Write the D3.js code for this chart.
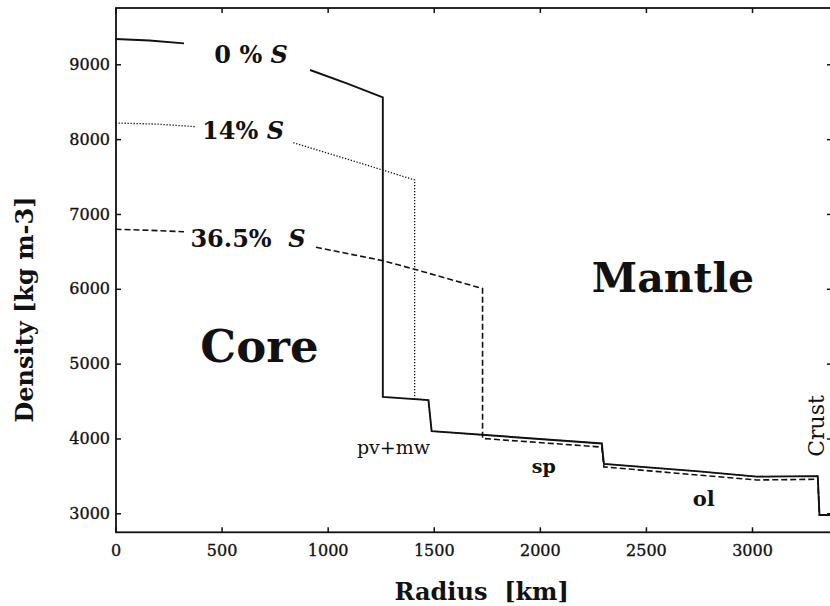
<!DOCTYPE html>
<html>
<head>
<meta charset="utf-8">
<script src="https://cdn.jsdelivr.net/npm/d3@7"></script>
<style>
  html, body { margin: 0; padding: 0; background: #fff; }
  svg { display: block; }
  text { font-family: "DejaVu Serif", serif; fill: #111; }
</style>
</head>
<body>
<svg id="chart" width="830" height="606"></svg>
<script>
// ---------------- data ----------------
const radiusTicks  = [0, 500, 1000, 1500, 2000, 2500, 3000];
const densityTicks = [3000, 4000, 5000, 6000, 7000, 8000, 9000];

// [radius km, density kg m-3]; null = break in the line (gap for the label)
const core0  = [[0, 9338], [160, 9318], [323, 9280], null, [917, 8924], [1090, 8745], [1260, 8559], [1260, 4556]];
const core14 = [[0, 8216], [200, 8200], [381, 8166], null, [838, 7952], [1126, 7704], [1410, 7454], [1410, 4530]];
const core36 = [[0, 6795], [160, 6782], [323, 6763], null, [945, 6555], [1260, 6376], [1410, 6261], [1730, 6003], [1730, 4000]];

const mantle0  = [[1260, 4556], [1475, 4512], [1490, 4098], [2292, 3933], [2302, 3660], [2750, 3560], [3022, 3490], [3310, 3497], [3318, 2977], [3420, 2977]];
const mantle14 = [[1410, 4530], [1475, 4512], [1490, 4098], [2292, 3933], [2302, 3660], [2750, 3560], [3022, 3490], [3310, 3497], [3318, 2977], [3420, 2977]];
const mantle36 = [[1730, 4000], [2292, 3885], [2302, 3620], [2750, 3510], [3022, 3445], [3310, 3455], [3318, 2977], [3420, 2977]];

const seriesLabels = ["0 % ", "14% ", "36.5%\u00a0 "];

// ---------------- scales ----------------
const svg = d3.select("#chart");
const x = d3.scaleLinear().domain([0, 3000]).range([115.5, 752]);
const y = d3.scaleLinear().domain([3000, 9000]).range([513.3, 64.3]);

const frame = { left: 116, right: 832, top: 8, bottom: 532.3 };

const line = d3.line()
  .defined(d => d !== null)
  .x(d => x(d[0]))
  .y(d => y(d[1]));

// ---------------- axes (inward ticks, full frame) ----------------
const tickFont = "16px";
const gB = svg.append("g").attr("transform", `translate(0,${frame.bottom})`)
  .call(d3.axisBottom(x).tickValues(radiusTicks).tickSizeInner(-5).tickSizeOuter(0).tickPadding(12).tickFormat(d3.format("d")));
const gL = svg.append("g").attr("transform", `translate(${frame.left},0)`)
  .call(d3.axisLeft(y).tickValues(densityTicks).tickSizeInner(-5).tickSizeOuter(0).tickPadding(6).tickFormat(d3.format("d")));
const gT = svg.append("g").attr("transform", `translate(0,${frame.top})`)
  .call(d3.axisTop(x).tickValues(radiusTicks).tickSizeInner(-5).tickSizeOuter(0).tickFormat(""));
const gR = svg.append("g").attr("transform", `translate(${frame.right},0)`)
  .call(d3.axisRight(y).tickValues(densityTicks).tickSizeInner(-5).tickSizeOuter(0).tickFormat(""));

[gB, gL, gT, gR].forEach(g => {
  g.select(".domain").remove();
  g.selectAll(".tick line").attr("stroke", "#111").attr("stroke-width", 1.5);
  g.selectAll(".tick text")
    .style("font-family", "'DejaVu Serif', serif").style("font-size", tickFont)
    .attr("fill", "#111").attr("stroke", "#111").attr("stroke-width", 0.35);
});

svg.append("rect")
  .attr("x", frame.left).attr("y", frame.top)
  .attr("width", frame.right - frame.left).attr("height", frame.bottom - frame.top)
  .attr("fill", "none").attr("stroke", "#111").attr("stroke-width", 1.8);

// ---------------- curves ----------------
const plot = svg.append("g");
// 36.5% S (dashed)
plot.append("path").datum(core36.concat(mantle36.slice(1)))
  .attr("d", line).attr("fill", "none").attr("stroke", "#111")
  .attr("stroke-width", 1.6).attr("stroke-dasharray", "6,3");
// 14% S (dotted)
plot.append("path").datum(core14.concat(mantle14.slice(1)))
  .attr("d", line).attr("fill", "none").attr("stroke", "#111")
  .attr("stroke-width", 1.3).attr("stroke-dasharray", "1.3,1.7");
// 0% S (solid)
plot.append("path").datum(core0.concat(mantle0.slice(1)))
  .attr("d", line).attr("fill", "none").attr("stroke", "#111")
  .attr("stroke-width", 1.9).attr("stroke-linejoin", "miter");

// ---------------- annotations ----------------
const labelPos = [[466, 9017], [408, 7998], [353, 6555]];
seriesLabels.forEach((s, i) => {
  const t = svg.append("text")
    .attr("x", x(labelPos[i][0])).attr("y", y(labelPos[i][1]))
    .attr("xml:space", "preserve")
    .style("font-size", "24px").style("font-weight", "bold");
  t.append("tspan").text(s);
  t.append("tspan").style("font-style", "italic").text("S");
});

svg.append("text").attr("x", x(400)).attr("y", y(5026))
  .style("font-size", "45px").style("font-weight", "bold").text("Core");
svg.append("text").attr("x", x(2245)).attr("y", y(5962))
  .style("font-size", "41px").style("font-weight", "bold").text("Mantle");
svg.append("text").attr("x", x(1138)).attr("y", y(3792))
  .style("font-size", "19px").text("pv+mw");
svg.append("text").attr("x", x(1962)).attr("y", y(3535))
  .style("font-size", "19px").style("font-weight", "bold").text("sp");
svg.append("text").attr("x", x(2721)).attr("y", y(3098))
  .style("font-size", "21px").style("font-weight", "bold").text("ol");
svg.append("text")
  .attr("transform", `translate(${x(3338)},${y(4167)}) rotate(-90)`)
  .attr("text-anchor", "middle")
  .style("font-size", "22px").text("Crust");

// axis titles
svg.append("text").attr("x", 481.7).attr("y", 600)
  .attr("text-anchor", "middle").attr("xml:space", "preserve")
  .style("font-size", "24px").style("font-weight", "bold").text("Radius\u00a0\u00a0[km]");
svg.append("text")
  .attr("transform", "translate(33,309.5) rotate(-90)")
  .attr("text-anchor", "middle")
  .style("font-size", "24px").style("font-weight", "bold").text("Density [kg m-3]");
</script>
</body>
</html>
